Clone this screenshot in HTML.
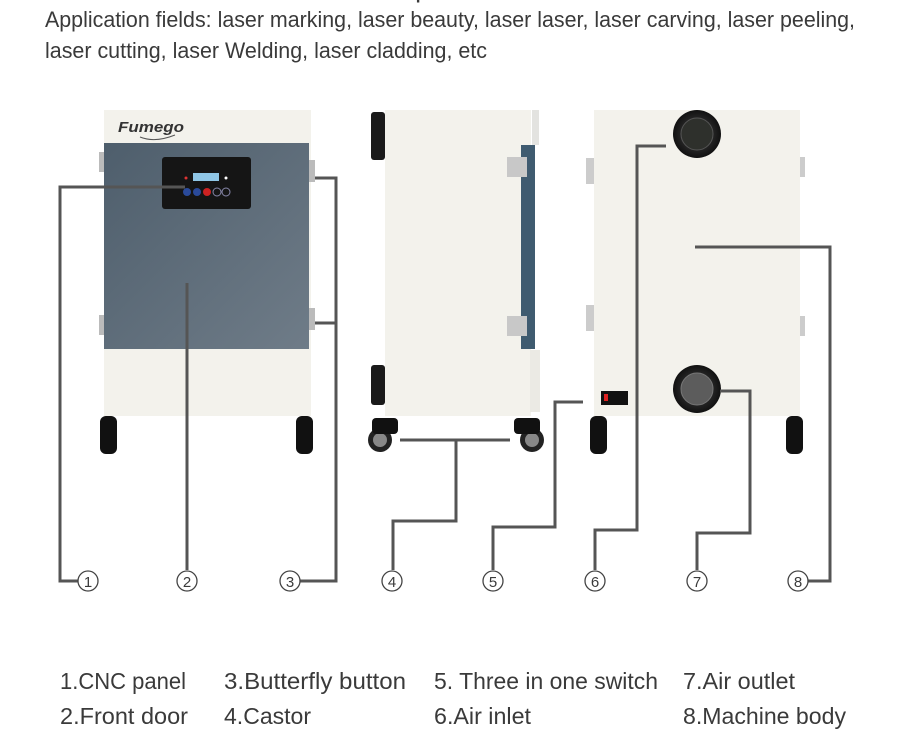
<!DOCTYPE html>
<html><head><meta charset="utf-8"><style>
html,body{margin:0;padding:0;background:#fff;width:903px;height:750px;overflow:hidden}
svg{display:block}
text{font-family:"Liberation Sans",sans-serif;fill:#3a3a3a}
</style></head><body>
<svg width="903" height="750" viewBox="0 0 903 750" xmlns="http://www.w3.org/2000/svg">
<defs>
<linearGradient id="door" x1="0" y1="0" x2="1" y2="1"><stop offset="0" stop-color="#4e5e6c"/><stop offset="1" stop-color="#6f7c88"/></linearGradient>
<radialGradient id="fan"><stop offset="0" stop-color="#3a3a3a"/><stop offset="0.7" stop-color="#222"/><stop offset="1" stop-color="#111"/></radialGradient>
</defs>
<!-- header -->
<text x="45" y="-2" font-size="22" textLength="500" lengthAdjust="spacingAndGlyphs">Suitable for various laser fume purification</text>
<text x="45" y="27" font-size="22" textLength="810" lengthAdjust="spacingAndGlyphs">Application fields: laser marking, laser beauty, laser laser, laser carving, laser peeling,</text>
<text x="45" y="58" font-size="22" textLength="442" lengthAdjust="spacingAndGlyphs">laser cutting, laser Welding, laser cladding, etc</text>

<!-- FRONT VIEW -->
<rect x="104" y="110" width="207" height="306" fill="#f3f2ec"/>
<rect x="104" y="143" width="205" height="206" fill="url(#door)"/>
<text x="118" y="132" font-size="15" font-weight="bold" font-style="italic" style="fill:#333" textLength="66" lengthAdjust="spacingAndGlyphs">Fumego</text>
<path d="M140 137 q15 6 35 -2" stroke="#555" fill="none" stroke-width="1"/>
<rect x="162" y="157" width="89" height="52" rx="3" fill="#151515"/>
<rect x="193" y="173" width="26" height="8" fill="#8fc6e6"/>
<circle cx="186" cy="178" r="1.5" fill="#d33"/><circle cx="226" cy="178" r="1.5" fill="#fff"/>
<circle cx="187" cy="192" r="4" fill="#2a4a9a"/><circle cx="197" cy="192" r="4" fill="#2a4a9a"/><circle cx="207" cy="192" r="4" fill="#c22"/><circle cx="217" cy="192" r="4" fill="none" stroke="#88a" /><circle cx="226" cy="192" r="4" fill="none" stroke="#88a"/>
<rect x="99" y="152" width="5" height="20" fill="#bbb"/><rect x="99" y="315" width="5" height="20" fill="#bbb"/>
<rect x="309" y="160" width="6" height="22" fill="#bbb"/><rect x="309" y="308" width="6" height="22" fill="#bbb"/>
<rect x="100" y="416" width="17" height="38" rx="6" fill="#111"/>
<rect x="296" y="416" width="17" height="38" rx="6" fill="#111"/>

<!-- SIDE VIEW -->
<rect x="385" y="110" width="146" height="306" fill="#f3f2ec"/>
<rect x="521" y="145" width="14" height="204" fill="#3f5b70"/>
<rect x="530" y="350" width="10" height="62" fill="#ebeae4"/>
<rect x="532" y="110" width="7" height="35" fill="#e3e3e0"/>
<rect x="507" y="157" width="20" height="20" fill="#c8c8c8"/><rect x="507" y="316" width="20" height="20" fill="#c8c8c8"/>
<rect x="371" y="112" width="14" height="48" rx="3" fill="#1a1a1a"/>
<rect x="371" y="365" width="14" height="40" rx="3" fill="#1a1a1a"/>
<circle cx="380" cy="440" r="12" fill="#222"/><circle cx="380" cy="440" r="7" fill="#888"/><rect x="372" y="418" width="26" height="16" rx="4" fill="#111"/>
<circle cx="532" cy="440" r="12" fill="#222"/><circle cx="532" cy="440" r="7" fill="#888"/><rect x="514" y="418" width="26" height="16" rx="4" fill="#111"/>

<!-- BACK VIEW -->
<rect x="594" y="110" width="206" height="306" fill="#f3f2ec"/>
<circle cx="697" cy="134" r="24" fill="url(#fan)"/><circle cx="697" cy="134" r="16" fill="#2e302c" stroke="#555"/>
<circle cx="697" cy="389" r="24" fill="url(#fan)"/><circle cx="697" cy="389" r="16" fill="#5c5c5c" stroke="#777"/>
<rect x="601" y="391" width="27" height="14" fill="#111"/><rect x="604" y="394" width="4" height="7" fill="#d22"/>
<rect x="586" y="158" width="8" height="26" fill="#ccc"/><rect x="586" y="305" width="8" height="26" fill="#ccc"/>
<rect x="800" y="157" width="5" height="20" fill="#ccc"/><rect x="800" y="316" width="5" height="20" fill="#ccc"/>
<rect x="590" y="416" width="17" height="38" rx="6" fill="#111"/>
<rect x="786" y="416" width="17" height="38" rx="6" fill="#111"/>

<!-- connectors -->
<g stroke="#555" stroke-width="3" fill="none">
<path d="M185 187 H60 V581 H78"/>
<path d="M187 283 V570"/>
<path d="M315 178 H336 V581 H300 M315 323 H336"/>
<path d="M400 440 H510 M456 440 V521 H393 V570"/>
<path d="M583 402 H555 V527 H493 V570"/>
<path d="M666 146 H637 V530 H595 V570"/>
<path d="M720 391 H750 V533 H697 V570"/>
<path d="M695 247 H830 V581 H808"/>
</g>
<g stroke="#444" stroke-width="1.3" fill="#fff">
<circle cx="88" cy="581" r="10"/><circle cx="187" cy="581" r="10"/><circle cx="290" cy="581" r="10"/><circle cx="392" cy="581" r="10"/>
<circle cx="493" cy="581" r="10"/><circle cx="595" cy="581" r="10"/><circle cx="697" cy="581" r="10"/><circle cx="798" cy="581" r="10"/>
</g>
<g font-size="15" text-anchor="middle">
<text x="88" y="587">1</text><text x="187" y="587">2</text><text x="290" y="587">3</text><text x="392" y="587">4</text>
<text x="493" y="587">5</text><text x="595" y="587">6</text><text x="697" y="587">7</text><text x="798" y="587">8</text>
</g>

<!-- legend -->
<g font-size="23">
<text x="60" y="689" textLength="126" lengthAdjust="spacingAndGlyphs">1.CNC panel</text>
<text x="60" y="724" textLength="128" lengthAdjust="spacingAndGlyphs">2.Front door</text>
<text x="224" y="689" textLength="182" lengthAdjust="spacingAndGlyphs">3.Butterfly button</text>
<text x="224" y="724" textLength="87" lengthAdjust="spacingAndGlyphs">4.Castor</text>
<text x="434" y="689" textLength="224" lengthAdjust="spacingAndGlyphs">5. Three in one switch</text>
<text x="434" y="724" textLength="97" lengthAdjust="spacingAndGlyphs">6.Air inlet</text>
<text x="683" y="689" textLength="112" lengthAdjust="spacingAndGlyphs">7.Air outlet</text>
<text x="683" y="724" textLength="163" lengthAdjust="spacingAndGlyphs">8.Machine body</text>
</g>
</svg>
</body></html>
